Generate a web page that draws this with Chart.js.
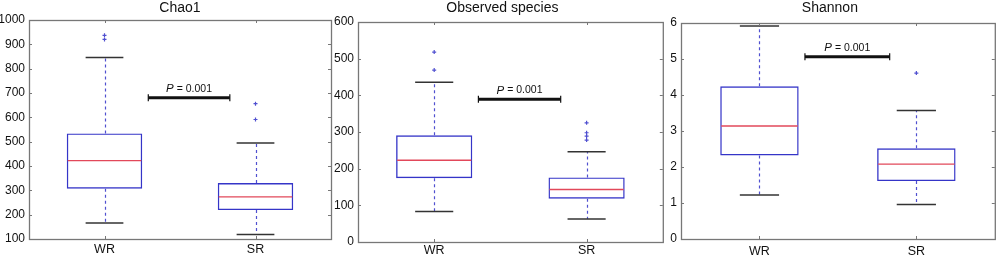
<!DOCTYPE html>
<html><head><meta charset="utf-8">
<script src="https://cdn.jsdelivr.net/npm/chart.js@4"></script>
<style>
html,body{margin:0;padding:0;background:#fff;}
#wrap{position:relative;width:1000px;height:260px;overflow:hidden;background:#fff;}
.pane{position:absolute;top:0;height:260px;}
</style></head><body>
<div id="wrap">
<div class="pane" id="p0" style="left:0;width:340px"><canvas id="c0"></canvas></div>
<div class="pane" id="p1" style="left:331px;width:337px"><canvas id="c1"></canvas></div>
<div class="pane" id="p2" style="left:668px;width:332px"><canvas id="c2"></canvas></div>
</div>
<script>
// ---- data ----
const groups = ['WR', 'SR'];
const titles = ['Chao1', 'Observed species', 'Shannon'];

const chao1Q1 = [307, 219];
const chao1Med = [422, 273];
const chao1Q3 = [534, 330];
const chao1Lo = [166, 119];
const chao1Hi = [846, 495];
const chao1OutWR = [920, 937];
const chao1OutSR = [591, 656];

const obsQ1 = [174, 118];
const obsMed = [223, 143];
const obsQ3 = [291, 176];
const obsLo = [83, 63];
const obsHi = [436, 246];
const obsOutWR = [469, 518];
const obsOutSR = [278, 289, 298, 325];

const shaQ1 = [2.32, 1.61];
const shaMed = [3.14, 2.08];
const shaQ3 = [4.24, 2.52];
const shaLo = [1.22, 0.96];
const shaHi = [5.92, 3.57];
const shaOutWR = [];
const shaOutSR = [4.61];

const yMin = [100, 0, 0];
const yMax = [1000, 600, 6];
const yStep = [100, 100, 1];

const pItalic = 'P';
const pRest = ' = 0.001';
const pBarY = [680, 389, 5.06];
const pBarFrom = 0.29; // category index units
const pBarTo = 0.83;

// ---- layout / style ----
const panes = [
  {w: 340, l: 29, r: 331, t: 20, b: 239, xPad: 3, titleDx: 0},
  {w: 337, l: 27, r: 334, t: 22, b: 242, xPad: 1, titleDx: -8},
  {w: 332, l: 13, r: 329, t: 23, b: 239, xPad: 5, titleDx: -8}
];
const FONT = '"Liberation Sans", Arial, Helvetica, sans-serif';
const AXIS = '#777777';
const BOX = '#3535c8';
const WHISK = '#5050d0';
const MED = '#e2485a';
const CAP = '#333333';

const stats = [
  {q1: chao1Q1, med: chao1Med, q3: chao1Q3, lo: chao1Lo, hi: chao1Hi, out: [chao1OutWR, chao1OutSR]},
  {q1: obsQ1, med: obsMed, q3: obsQ3, lo: obsLo, hi: obsHi, out: [obsOutWR, obsOutSR]},
  {q1: shaQ1, med: shaMed, q3: shaQ3, lo: shaLo, hi: shaHi, out: [shaOutWR, shaOutSR]}
];

function boxPlugin(k) {
  return {
    id: 'boxdecor' + k,
    afterDraw(chart) {
      const ctx = chart.ctx;
      const xs = chart.scales.x, ys = chart.scales.y;
      const a = chart.chartArea;
      const s = stats[k];
      ctx.save();
      groups.forEach((g, i) => {
        const x = Math.round(xs.getPixelForValue(i)) + 0.5;
        ctx.strokeStyle = WHISK;
        ctx.lineWidth = 1.2;
        ctx.setLineDash([3, 3]);
        ctx.beginPath();
        ctx.moveTo(x, ys.getPixelForValue(s.q3[i]));
        ctx.lineTo(x, ys.getPixelForValue(s.hi[i]));
        ctx.moveTo(x, ys.getPixelForValue(s.q1[i]));
        ctx.lineTo(x, ys.getPixelForValue(s.lo[i]));
        ctx.stroke();
        ctx.setLineDash([]);
        ctx.strokeStyle = CAP;
        ctx.lineWidth = 1.5;
        const x0 = xs.getPixelForValue(i - 0.125), x1 = xs.getPixelForValue(i + 0.125);
        [s.hi[i], s.lo[i]].forEach(v => {
          const y = ys.getPixelForValue(v);
          ctx.beginPath(); ctx.moveTo(x0, y); ctx.lineTo(x1, y); ctx.stroke();
        });
        ctx.strokeStyle = MED;
        ctx.lineWidth = 1.4;
        const bx0 = xs.getPixelForValue(i - 0.25), bx1 = xs.getPixelForValue(i + 0.25);
        const my = ys.getPixelForValue(s.med[i]);
        ctx.beginPath(); ctx.moveTo(bx0 + 1, my); ctx.lineTo(bx1 - 1, my); ctx.stroke();
      });
      ctx.strokeStyle = AXIS;
      ctx.lineWidth = 1.3;
      ctx.strokeRect(a.left + 0.5, a.top + 0.5, a.right - a.left, a.bottom - a.top);
      ctx.lineWidth = 1;
      ys.ticks.forEach(t => {
        const y = Math.round(ys.getPixelForValue(t.value)) + 0.5;
        ctx.beginPath();
        ctx.moveTo(a.left, y); ctx.lineTo(a.left + 3, y);
        ctx.moveTo(a.right, y); ctx.lineTo(a.right - 3, y);
        ctx.stroke();
      });
      groups.forEach((g, i) => {
        const x = Math.round(xs.getPixelForValue(i)) + 0.5;
        ctx.beginPath();
        ctx.moveTo(x, a.top); ctx.lineTo(x, a.top + 3);
        ctx.moveTo(x, a.bottom); ctx.lineTo(x, a.bottom - 3);
        ctx.stroke();
      });
      const px0 = xs.getPixelForValue(pBarFrom), px1 = xs.getPixelForValue(pBarTo);
      const py = ys.getPixelForValue(pBarY[k]);
      ctx.strokeStyle = '#111';
      ctx.lineWidth = 3;
      ctx.beginPath(); ctx.moveTo(px0, py); ctx.lineTo(px1, py); ctx.stroke();
      ctx.lineWidth = 1.2;
      ctx.beginPath();
      ctx.moveTo(px0, py - 3.5); ctx.lineTo(px0, py + 3.5);
      ctx.moveTo(px1, py - 3.5); ctx.lineTo(px1, py + 3.5);
      ctx.stroke();
      ctx.fillStyle = '#111';
      ctx.textBaseline = 'middle';
      ctx.font = 'italic 11.5px ' + FONT;
      const wI = ctx.measureText(pItalic).width;
      ctx.font = '10.5px ' + FONT;
      const wR = ctx.measureText(pRest).width;
      const cx = (px0 + px1) / 2;
      const tx = cx - (wI + wR) / 2;
      ctx.textAlign = 'left';
      ctx.font = 'italic 11.5px ' + FONT;
      ctx.fillText(pItalic, tx, py - 9);
      ctx.font = '10.5px ' + FONT;
      ctx.fillText(pRest, tx + wI, py - 9);
      ctx.font = '14px ' + FONT;
      ctx.fillStyle = '#111';
      ctx.textAlign = 'center';
      ctx.fillText(titles[k], (a.left + a.right) / 2 + panes[k].titleDx, 8);
      ctx.restore();
    }
  };
}

Chart.defaults.font.family = FONT;
Chart.defaults.color = '#111';

panes.forEach((p, k) => {
  const s = stats[k];
  const outPts = [];
  groups.forEach((g, i) => s.out[i].forEach(v => outPts.push({x: g, y: v})));
  new Chart(document.getElementById('c' + k), {
    data: {
      labels: groups,
      datasets: [
        {
          type: 'bar',
          data: groups.map((g, i) => [s.q1[i], s.q3[i]]),
          backgroundColor: 'rgba(255,255,255,0)',
          borderColor: BOX,
          borderWidth: 1.4,
          borderSkipped: false,
          barPercentage: 0.5,
          categoryPercentage: 1
        },
        {
          type: 'scatter',
          data: outPts,
          pointStyle: 'cross',
          pointRadius: 2,
          borderColor: WHISK,
          borderWidth: 1.2,
          showLine: false
        }
      ]
    },
    options: {
      responsive: true,
      maintainAspectRatio: false,
      animation: false,
      events: [],
      layout: {padding: {top: p.t, right: p.w - p.r, left: 0, bottom: 0}},
      plugins: {legend: {display: false}, tooltip: {enabled: false}, title: {display: false}},
      scales: {
        x: {
          type: 'category',
          offset: true,
          grid: {display: false, drawTicks: false},
          border: {display: false},
          ticks: {font: {size: 12.5}, padding: p.xPad, color: '#111'},
          afterFit: sc => { sc.height = 260 - p.b; }
        },
        y: {
          type: 'linear',
          min: yMin[k], max: yMax[k],
          grid: {display: false, drawTicks: false},
          border: {display: false},
          ticks: {stepSize: yStep[k], font: {size: 12}, padding: 4, color: '#111',
                  callback: v => String(v)},
          afterFit: sc => { sc.width = p.l; }
        }
      }
    },
    plugins: [boxPlugin(k)]
  });
});
</script>
</body></html>
